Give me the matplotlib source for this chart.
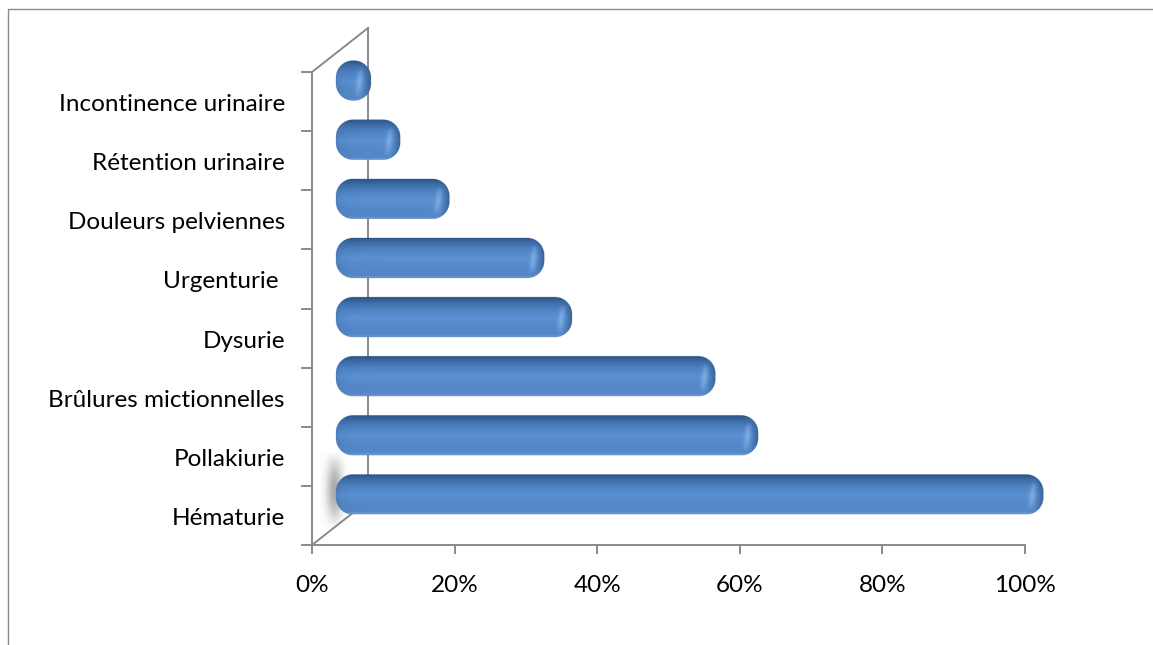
import numpy as np
import matplotlib.pyplot as plt
from matplotlib.patches import Polygon
from matplotlib.colors import LinearSegmentedColormap, to_rgb

categories = ['Hématurie', 'Pollakiurie', 'Brûlures mictionnelles', 'Dysurie',
              'Urgenturie ', 'Douleurs pelviennes', 'Rétention urinaire',
              'Incontinence urinaire']
values = [99.2, 59.2, 53.2, 33.1, 29.2, 15.9, 9.0, 4.9]
xticks = [0, 20, 40, 60, 80, 100]
xticklabels = ['0%', '20%', '40%', '60%', '80%', '100%']

W, H = 1153, 645
fig = plt.figure(figsize=(W / 100, H / 100), dpi=100)
fig.patch.set_facecolor('white')

# outer chart border (top and left edge only visible)
frame = fig.add_axes([0, 0, 1, 1])
frame.set_xlim(0, W)
frame.set_ylim(H, 0)
frame.axis('off')
frame.plot([8, 8, W + 5], [H + 5, 8.5, 8.5], color='#8c8c8c', lw=1.0)

# plot area: x 0..100 -> 312..1025 px, y -0.5..7.5 -> 545..72 px
x0px, x1px, ybot, ytop = 312, 1025, 545, 72
ax = fig.add_axes([x0px / W, (H - ybot) / H, (x1px - x0px) / W, (ybot - ytop) / H])
ax.set_xlim(0, 100)
ax.set_ylim(-0.5, 7.5)
ax.axis('off')

pxx = (x1px - x0px) / 100.0     # pixels per percent
pxy = (ybot - ytop) / 8.0       # pixels per category
dep_x = 56 / pxx                # full depth in data units
dep_y = 44 / pxy

grey = '#8a8a8a'
lw = 1.4
n = len(categories)
ax.plot([0, 0], [-0.5, n - 0.5], color=grey, lw=lw, clip_on=False, zorder=1)
ax.plot([0, 100], [-0.5, -0.5], color=grey, lw=lw, clip_on=False, zorder=1)
ax.plot([0, dep_x], [n - 0.5, n - 0.5 + dep_y], color=grey, lw=lw, clip_on=False, zorder=1)
ax.plot([0, dep_x], [-0.5, -0.5 + dep_y], color=grey, lw=lw, clip_on=False, zorder=1)
ax.plot([dep_x, dep_x], [-0.5 + dep_y, n - 0.5 + dep_y], color=grey, lw=lw,
        clip_on=False, zorder=1)

# tick marks
for k in range(n + 1):
    ax.plot([-10 / pxx, 0], [k - 0.5, k - 0.5], color=grey, lw=lw, clip_on=False, zorder=1)
for t in xticks:
    ax.plot([t, t], [-0.5, -0.5 - 8 / pxy], color=grey, lw=lw, clip_on=False, zorder=1)

font = 'Lato'
fs = 17.5
for t, lab in zip(xticks, xticklabels):
    ax.text(t, -0.5 - 40 / pxy, lab, ha='center', va='center', fontsize=fs,
            family=font, color='black')
for i, lab in enumerate(categories):
    ax.text(-27 / pxx, i - 0.05, lab, ha='right', va='center', fontsize=fs,
            family=font, color='black')

# soft shadow on the wall next to the lowest bars
yy, xx = np.mgrid[0:80, 0:34]
a = np.exp(-((xx - 18) / 8.0) ** 2) * np.clip(np.sin(np.pi * yy / 79.0), 0, 1) ** 1.2
sh = np.zeros((80, 34, 4))
sh[..., :3] = 0.45
sh[..., 3] = 0.6 * a
ax.imshow(sh, extent=[4 / pxx, 38 / pxx, -0.5 + 15 / pxy, -0.5 + 95 / pxy],
          aspect='auto', zorder=2, clip_on=False, interpolation='bilinear')

# vertical colour profile of a cylinder
prof = LinearSegmentedColormap.from_list('cyl', [
    (0.00, '#6a98d2'), (0.06, '#5486c6'), (0.30, '#5589ca'), (0.48, '#5b91d3'),
    (0.72, '#4d80c0'), (0.88, '#3d6ba5'), (1.00, '#2d5487')])

bar_h = 40 / pxy
off_x = 24 / pxx
off_y = 21 / pxy
rpx = 17.0
dark = np.array(to_rgb('#2e5686'))
light = np.array(to_rgb('#8dbdf0'))


def capsule(xl, xr, yb, yt):
    # rounded rectangle with equal corner radius in pixels
    rx = min(rpx / pxx, (xr - xl) / 2)
    ry = min(rpx / pxy, (yt - yb) / 2)
    th = np.linspace(0, np.pi / 2, 16)
    pts = []
    for cx, cy, a0 in [(xr - rx, yt - ry, 0), (xl + rx, yt - ry, np.pi / 2),
                       (xl + rx, yb + ry, np.pi), (xr - rx, yb + ry, 1.5 * np.pi)]:
        pts += list(zip(cx + rx * np.cos(th + a0), cy + ry * np.sin(th + a0)))
    return np.array(pts)


for i, v in enumerate(values):
    xl = off_x
    xr = off_x + v
    yc = i + off_y
    yb = yc - bar_h / 2
    yt = yc + bar_h / 2
    patch = Polygon(capsule(xl, xr, yb, yt), closed=True, facecolor='none',
                    edgecolor='none', zorder=3)
    ax.add_patch(patch)
    patch.set_clip_on(False)
    wpx = int(round((xr - xl) * pxx))
    hpx = 40
    t = np.linspace(0, 1, hpx)[:, None]
    img = prof(np.repeat(t, wpx, axis=1))[..., :3]
    xs = np.arange(wpx)[None, :].astype(float)
    dr = wpx - 1 - xs
    ys = np.linspace(-1, 1, hpx)[:, None]
    # darker right cap
    ed = np.clip(1 - dr / 9.0, 0, 1) ** 1.2 * 0.8
    img = img * (1 - ed[..., None]) + dark * ed[..., None]
    # slight shading at the left end
    el = np.exp(-xs / 7.0) * 0.22
    img = img * (1 - el[..., None]) + dark * el[..., None]
    # light oval on the right cap
    hl = np.exp(-((dr - 11 + 2.5 * ys) / 3.0) ** 2) * np.clip(1 - (ys + 0.1) ** 2 / 0.55, 0, 1)
    hl = hl * 0.6
    img = img * (1 - hl[..., None]) + light * hl[..., None]
    im = ax.imshow(img, extent=[xl, xr, yt, yb], aspect='auto',
                   interpolation='bilinear', zorder=3)
    im.set_clip_path(patch)
    im.set_clip_box(fig.bbox)
    im.set_clip_on(True)
    edge = Polygon(capsule(xl, xr, yb, yt), closed=True, facecolor='none',
                   edgecolor='#35608f', lw=0.5, alpha=0.3, zorder=4)
    ax.add_patch(edge)
    edge.set_clip_on(False)

fig.savefig('out.png', dpi=100)
